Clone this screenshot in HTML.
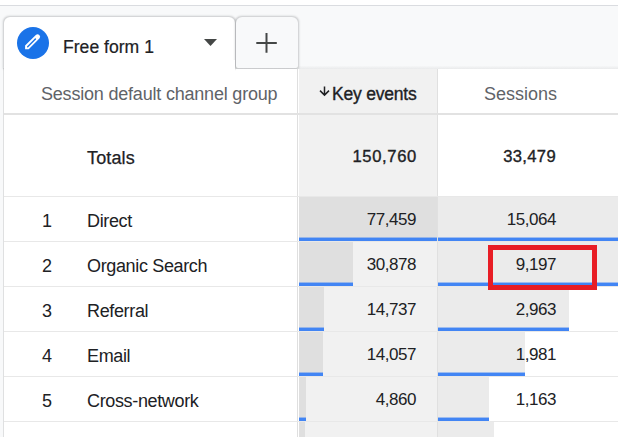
<!DOCTYPE html>
<html><head><meta charset="utf-8">
<style>
*{margin:0;padding:0;box-sizing:border-box}
html,body{width:618px;height:437px;overflow:hidden;background:#fff;font-family:"Liberation Sans",sans-serif;color:#202124}
.a{position:absolute}
.t{position:absolute;white-space:nowrap;font-size:18px;line-height:20px}
.r{position:absolute;white-space:nowrap;font-size:18px;line-height:20px;text-align:right}
.sep{position:absolute;left:4px;width:614px;height:1px;background:#e8e8e8}
.bar{position:absolute;background:#ebebeb}
.blue{position:absolute;height:4px;background:linear-gradient(rgba(66,133,244,.45) 0 1px,#4285f4 1px)}
</style></head><body>
<div class="a" style="left:0;top:0;width:618px;height:5px;background:#fff"></div>
<div class="a" style="left:0;top:5px;width:618px;height:1px;background:#dadce0"></div>
<div class="a" style="left:0;top:6px;width:618px;height:431px;background:#f8f9fa"></div>
<div class="a" style="left:236px;top:66px;width:382px;height:3px;background:linear-gradient(#f6f7f8,#e9eaeb)"></div>
<div class="a" style="left:4px;top:69px;width:614px;height:368px;background:#fff"></div>
<div class="a" style="left:3px;top:68px;width:1px;height:369px;background:#dfe0e1"></div>
<div class="a" style="left:4px;top:17px;width:231px;height:51px;background:#fff;border-radius:6px 6px 0 0;box-shadow:0 0 2px 0.3px rgba(60,64,67,.25)"></div>
<div class="a" style="left:236px;top:17px;width:62px;height:51px;background:#f8f9fa;border-radius:6px 6px 2px 2px;box-shadow:0 0 2px 0.3px rgba(60,64,67,.25)"></div>
<div class="a" style="left:4px;top:60px;width:231px;height:20px;background:#fff"></div>
<div class="a" style="left:236px;top:69px;width:382px;height:10px;background:#fff"></div>
<div class="a" style="left:299px;top:69px;width:138px;height:368px;background:#f1f1f1"></div>
<div class="a" style="left:297px;top:69px;width:1px;height:368px;background:#dfdfdf"></div>
<div class="a" style="left:437px;top:69px;width:1px;height:368px;background:#e0e0e0"></div>
<div class="a" style="left:4px;top:113px;width:614px;height:2px;background:#e2e2e2"></div>
<svg class="a" style="left:17px;top:27px" width="32" height="32" viewBox="0 0 32 32">
<circle cx="16" cy="16" r="16" fill="#1a73e8"/>
<path d="M8.1 18.6 L18.8 7.9 A2.55 2.55 0 0 1 22.4 11.5 L11.7 22.2 L8.1 22.2 Z" fill="#fff"/><path d="M10.7 19.7 L18.4 12" stroke="#1a73e8" stroke-width="1.4" stroke-linecap="round"/>
</svg>
<div class="t" id="ff" style="left:63px;top:37px;font-size:17.6px;letter-spacing:0;-webkit-text-stroke:0.2px #202124">Free form 1</div>
<svg class="a" style="left:204px;top:39px" width="13" height="7" viewBox="0 0 13 7"><path d="M0 0 H13 L6.5 7 Z" fill="#444746"/></svg>
<svg class="a" style="left:256px;top:33px" width="21" height="20" viewBox="0 0 21 20"><path d="M0.3 10 H20.8 M10.5 0 V19.8" stroke="#444746" stroke-width="2"/></svg>
<div class="t" id="h1" style="left:41px;top:84px;color:#5f6368;letter-spacing:-0.2px">Session default channel group</div>
<svg class="a" style="left:319px;top:86px" width="11" height="11" viewBox="0 0 11 11"><path d="M5.5 0.5 V9 M1 4.6 L5.5 9.1 L10 4.6" fill="none" stroke="#202124" stroke-width="1.5"/></svg>
<div class="t" id="h2" style="left:332px;top:84px;font-size:17.5px;letter-spacing:-0.2px;-webkit-text-stroke:0.35px #202124">Key events</div>
<div class="r" id="h3" style="right:61px;top:84px;color:#5f6368;letter-spacing:0px">Sessions</div>
<div class="t" id="tot" style="left:87px;top:148px;font-size:18px;letter-spacing:0.15px;-webkit-text-stroke:0.25px #202124">Totals</div>
<div class="r" id="tk" style="right:201px;top:147px;font-size:16.6px;letter-spacing:0.65px;-webkit-text-stroke:0.35px #202124">150,760</div>
<div class="r" id="ts" style="right:62px;top:147px;font-size:16.6px;letter-spacing:0.35px;-webkit-text-stroke:0.35px #202124">33,479</div>
<div class="sep" style="top:196px"></div>
<div class="bar" style="left:299px;top:197px;width:138px;height:44px;background:#dfdfdf"></div>
<div class="blue" style="left:299px;top:237px;width:138px"></div>
<div class="bar" style="left:438px;top:197px;width:180px;height:44px"></div>
<div class="blue" style="left:438px;top:237px;width:180px"></div>
<div class="sep" style="top:241px"></div>
<div class="bar" style="left:299px;top:242px;width:54px;height:44px;background:#dfdfdf"></div>
<div class="blue" style="left:299px;top:282px;width:54px"></div>
<div class="bar" style="left:438px;top:242px;width:180px;height:44px"></div>
<div class="blue" style="left:438px;top:282px;width:180px"></div>
<div class="sep" style="top:286px"></div>
<div class="bar" style="left:299px;top:287px;width:25px;height:44px;background:#dfdfdf"></div>
<div class="blue" style="left:299px;top:327px;width:25px"></div>
<div class="bar" style="left:438px;top:287px;width:131px;height:44px"></div>
<div class="blue" style="left:438px;top:327px;width:131px"></div>
<div class="sep" style="top:331px"></div>
<div class="bar" style="left:299px;top:332px;width:24px;height:44px;background:#dfdfdf"></div>
<div class="blue" style="left:299px;top:372px;width:24px"></div>
<div class="bar" style="left:438px;top:332px;width:87px;height:44px"></div>
<div class="blue" style="left:438px;top:372px;width:87px"></div>
<div class="sep" style="top:376px"></div>
<div class="bar" style="left:299px;top:377px;width:7px;height:44px;background:#dfdfdf"></div>
<div class="blue" style="left:299px;top:417px;width:7px"></div>
<div class="bar" style="left:438px;top:377px;width:51px;height:44px"></div>
<div class="blue" style="left:438px;top:417px;width:51px"></div>
<div class="sep" style="top:421px"></div>
<div class="bar" style="left:299px;top:422px;width:6px;height:15px;background:#dfdfdf"></div>
<div class="bar" style="left:438px;top:422px;width:56px;height:15px"></div>
<div class="t" id="n0" style="left:42px;top:211px">1</div>
<div class="t" id="m0" style="left:87px;top:211px;letter-spacing:-0.35px">Direct</div>
<div class="r" id="k0" style="right:202px;top:210px;font-size:17px;letter-spacing:-0.45px">77,459</div>
<div class="r" id="s0" style="right:62px;top:210px;font-size:17px;letter-spacing:-0.45px">15,064</div>
<div class="t" id="n1" style="left:42px;top:256px">2</div>
<div class="t" id="m1" style="left:87px;top:256px;letter-spacing:-0.35px">Organic Search</div>
<div class="r" id="k1" style="right:202px;top:255px;font-size:17px;letter-spacing:-0.45px">30,878</div>
<div class="r" id="s1" style="right:62px;top:255px;font-size:17px;letter-spacing:-0.45px">9,197</div>
<div class="t" id="n2" style="left:42px;top:301px">3</div>
<div class="t" id="m2" style="left:87px;top:301px;letter-spacing:-0.35px">Referral</div>
<div class="r" id="k2" style="right:202px;top:300px;font-size:17px;letter-spacing:-0.45px">14,737</div>
<div class="r" id="s2" style="right:62px;top:300px;font-size:17px;letter-spacing:-0.45px">2,963</div>
<div class="t" id="n3" style="left:42px;top:346px">4</div>
<div class="t" id="m3" style="left:87px;top:346px;letter-spacing:-0.35px">Email</div>
<div class="r" id="k3" style="right:202px;top:345px;font-size:17px;letter-spacing:-0.45px">14,057</div>
<div class="r" id="s3" style="right:62px;top:345px;font-size:17px;letter-spacing:-0.45px">1,981</div>
<div class="t" id="n4" style="left:42px;top:391px">5</div>
<div class="t" id="m4" style="left:87px;top:391px;letter-spacing:-0.35px">Cross-network</div>
<div class="r" id="k4" style="right:202px;top:390px;font-size:17px;letter-spacing:-0.45px">4,860</div>
<div class="r" id="s4" style="right:62px;top:390px;font-size:17px;letter-spacing:-0.45px">1,163</div>
<div class="a" style="left:488px;top:245px;width:109px;height:45px;border:5px solid #e81d25"></div>
</body></html>
